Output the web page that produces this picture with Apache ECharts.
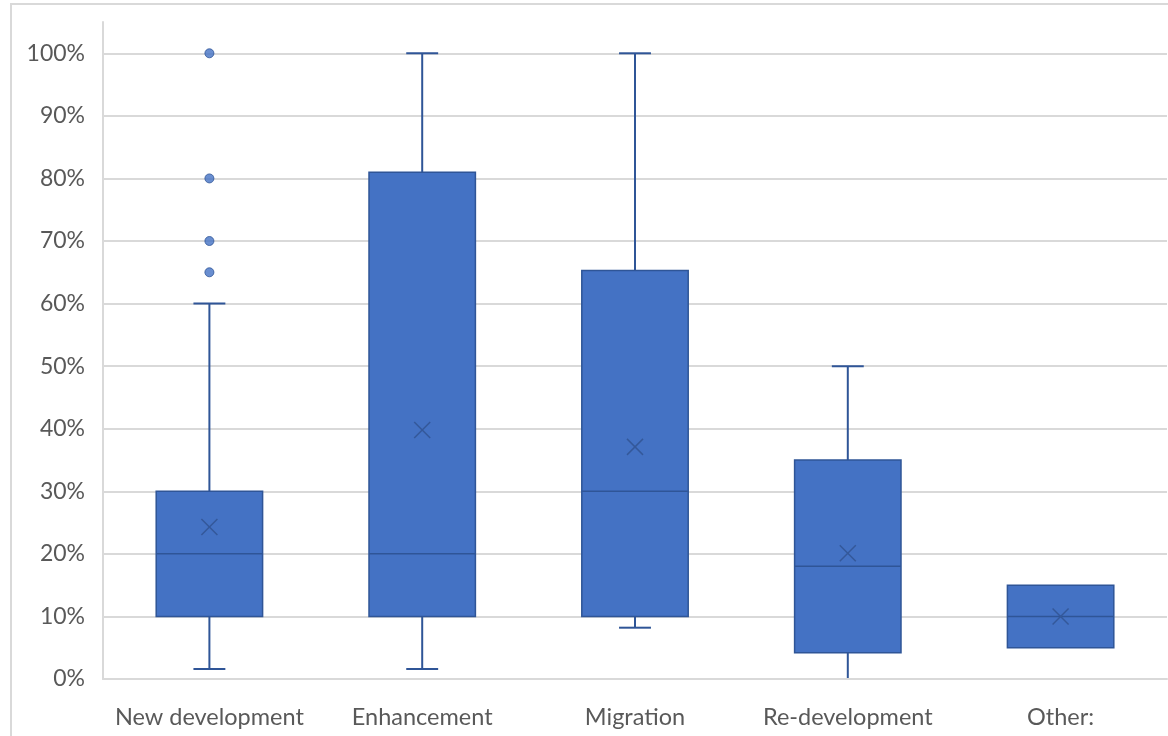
<!DOCTYPE html>
<html>
<head>
<meta charset="utf-8">
<script src="https://cdn.jsdelivr.net/npm/echarts@6/dist/echarts.min.js"></script>
<style>
  html, body { margin: 0; padding: 0; background: #fff; }
  #frame { position: absolute; left: 10px; top: 3px; width: 1158px; height: 733px;
           border-left: 2px solid #d9d9d9; border-top: 2px solid #d9d9d9; box-sizing: border-box; }
  #chart { position: absolute; left: 0; top: 0; width: 1168px; height: 736px; }
</style>
</head>
<body>
<div id="frame"></div>
<div id="chart"></div>
<script>
// Share of effort by project type
const categories = ['New development', 'Enhancement', 'Migration', 'Re-development', 'Other:'];
const whiskerLow  = [0.016, 0.016, 0.082, 0.00, 0.05];
const quartile1   = [0.10, 0.10, 0.10, 0.042, 0.05];
const medians     = [0.20, 0.20, 0.30, 0.18, 0.10];
const quartile3   = [0.30, 0.81, 0.653, 0.35, 0.15];
const whiskerHigh = [0.60, 1.00, 1.00, 0.50, 0.15];
const means       = [0.243, 0.398, 0.371, 0.201, 0.10];
const outlierCategory = [0, 0, 0, 0];
const outlierValues   = [1.00, 0.80, 0.70, 0.65];
const yTicks = [0, 0.1, 0.2, 0.3, 0.4, 0.5, 0.6, 0.7, 0.8, 0.9, 1.0];

const FILL = '#4472c4';
const EDGE = '#2f5597';
const TEXT = '#595959';
const GRID = '#d9d9d9';
const FONT = 'Lato, "Open Sans", sans-serif';

const boxData = categories.map((c, i) =>
  [i, whiskerLow[i], quartile1[i], medians[i], quartile3[i], whiskerHigh[i], means[i]]);
const outlierData = outlierCategory.map((c, i) => [c, outlierValues[i]]);

function renderBox(params, api) {
  const idx = api.value(0);
  const lo = api.coord([idx, api.value(1)]);
  const q1 = api.coord([idx, api.value(2)]);
  const md = api.coord([idx, api.value(3)]);
  const q3 = api.coord([idx, api.value(4)]);
  const hi = api.coord([idx, api.value(5)]);
  const mn = api.coord([idx, api.value(6)]);
  const band = api.size([1, 0])[0];
  const w = band * 0.5;
  const cap = band * 0.15;
  const x = lo[0];
  const lineStyle = { stroke: EDGE, lineWidth: 2 };
  const children = [];
  if (hi[1] < q3[1]) {
    children.push({ type: 'line', shape: { x1: x, y1: q3[1], x2: x, y2: hi[1] }, style: lineStyle });
    children.push({ type: 'line', shape: { x1: x - cap / 2, y1: hi[1], x2: x + cap / 2, y2: hi[1] }, style: lineStyle });
  }
  if (lo[1] > q1[1]) {
    children.push({ type: 'line', shape: { x1: x, y1: q1[1], x2: x, y2: lo[1] }, style: lineStyle });
    children.push({ type: 'line', shape: { x1: x - cap / 2, y1: lo[1], x2: x + cap / 2, y2: lo[1] }, style: lineStyle });
  }
  children.push({ type: 'rect', shape: { x: x - w / 2, y: q3[1], width: w, height: q1[1] - q3[1] },
                  style: { fill: FILL, stroke: EDGE, lineWidth: 1.5 } });
  children.push({ type: 'line', shape: { x1: x - w / 2, y1: md[1], x2: x + w / 2, y2: md[1] },
                  style: { stroke: EDGE, lineWidth: 1.5 } });
  const m = 8;
  children.push({ type: 'line', shape: { x1: x - m, y1: mn[1] - m, x2: x + m, y2: mn[1] + m },
                  style: { stroke: '#34589a', lineWidth: 1.5 } });
  children.push({ type: 'line', shape: { x1: x - m, y1: mn[1] + m, x2: x + m, y2: mn[1] - m },
                  style: { stroke: '#34589a', lineWidth: 1.5 } });
  return { type: 'group', children };
}

const chart = echarts.init(document.getElementById('chart'), null, { renderer: 'canvas' });
const gridColors = yTicks.map(() => GRID).concat(['rgba(0,0,0,0)']);

chart.setOption({
  animation: false,
  backgroundColor: 'transparent',
  grid: { left: 103, right: 1, top: 22, bottom: 57, containLabel: false },
  xAxis: {
    type: 'category',
    data: categories,
    z: 5,
    axisLine: { show: true, lineStyle: { color: GRID, width: 2 } },
    axisTick: { show: false },
    axisLabel: { color: TEXT, fontFamily: FONT, fontSize: 23.5, margin: 26, interval: 0 }
  },
  yAxis: {
    type: 'value',
    min: 0,
    max: 1.05,
    interval: 0.1,
    axisLine: { show: true, lineStyle: { color: GRID, width: 2 } },
    axisTick: { show: false },
    splitLine: { show: true, lineStyle: { color: gridColors, width: 2 } },
    axisLabel: {
      color: TEXT, fontFamily: FONT, fontSize: 23, margin: 18,
      formatter: v => (v > 1.0001 ? '' : Math.round(v * 100) + '%')
    }
  },
  series: [
    {
      type: 'custom',
      renderItem: renderBox,
      encode: { x: 0, y: [1, 2, 3, 4, 5, 6] },
      data: boxData,
      z: 3
    },
    {
      type: 'scatter',
      data: outlierData,
      symbol: 'circle',
      symbolSize: 9,
      itemStyle: { color: FILL, borderColor: EDGE, borderWidth: 1 },
      z: 4
    }
  ]
});
</script>
</body>
</html>
